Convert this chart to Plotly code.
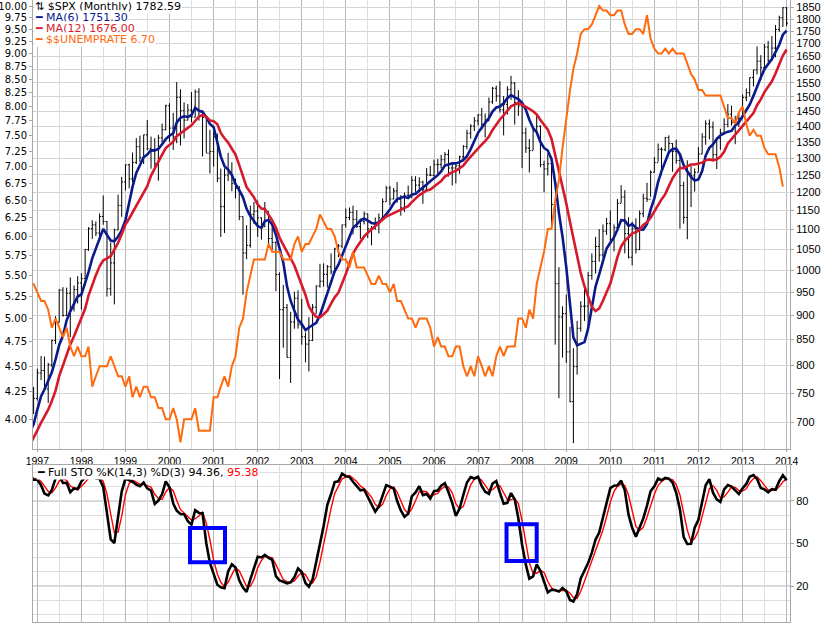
import pandas as pd
import plotly.graph_objects as go

# monthly bars, Jan 1995 .. Jan 2014 (earlier months only feed the indicators)
months = pd.date_range('1995-01-01', '2014-01-01', freq='MS')

spx_close = [
    470.42, 487.39, 500.71, 514.71, 533.40, 544.75, 562.06, 561.88, 584.41, 581.50, 605.37, 615.93,
    636.02, 640.43, 645.50, 654.17, 669.12, 670.63, 639.95, 651.99, 687.33, 705.27, 757.02, 740.74,
    786.16, 790.82, 757.12, 801.34, 848.28, 885.14, 954.31, 899.47, 947.28, 914.62, 955.40, 970.43,
    980.28, 1049.34, 1101.75, 1111.75, 1090.82, 1133.84, 1120.67, 957.28, 1017.01, 1098.67, 1163.63, 1229.23,
    1279.64, 1238.33, 1286.37, 1335.18, 1301.84, 1372.71, 1328.72, 1320.41, 1282.71, 1362.93, 1388.91, 1469.25,
    1394.46, 1366.42, 1498.58, 1452.43, 1420.60, 1454.60, 1430.83, 1517.68, 1436.51, 1429.40, 1314.95, 1320.28,
    1366.01, 1239.94, 1160.33, 1249.46, 1255.82, 1224.42, 1211.23, 1133.58, 1040.94, 1059.78, 1139.45, 1148.08,
    1130.20, 1106.73, 1147.39, 1076.92, 1067.14, 989.82, 911.62, 916.07, 815.28, 885.76, 936.31, 879.82,
    855.70, 841.15, 848.18, 916.92, 963.59, 974.50, 990.31, 1008.01, 995.97, 1050.71, 1058.20, 1111.92,
    1131.13, 1144.94, 1126.21, 1107.30, 1120.68, 1140.84, 1101.72, 1104.24, 1114.58, 1130.20, 1173.82, 1211.92,
    1181.27, 1203.60, 1180.59, 1156.85, 1191.50, 1191.33, 1234.18, 1220.33, 1228.81, 1207.01, 1249.48, 1248.29,
    1280.08, 1280.66, 1294.83, 1310.61, 1270.09, 1270.20, 1276.66, 1303.82, 1335.85, 1377.94, 1400.63, 1418.30,
    1438.24, 1406.82, 1420.86, 1482.37, 1530.62, 1503.35, 1455.27, 1473.99, 1526.75, 1549.38, 1481.14, 1468.36,
    1378.55, 1330.63, 1322.70, 1385.59, 1400.38, 1280.00, 1267.38, 1282.83, 1166.36, 968.75, 896.24, 903.25,
    825.88, 735.09, 797.87, 872.81, 919.14, 919.32, 987.48, 1020.62, 1057.08, 1036.19, 1095.63, 1115.10,
    1073.87, 1104.49, 1169.43, 1186.69, 1089.41, 1030.71, 1101.60, 1049.33, 1141.20, 1183.26, 1180.55, 1257.64,
    1286.12, 1327.22, 1325.83, 1363.61, 1345.20, 1320.64, 1292.28, 1218.89, 1131.42, 1253.30, 1246.96, 1257.60,
    1312.41, 1365.68, 1408.47, 1397.91, 1310.33, 1362.16, 1379.32, 1406.58, 1440.67, 1412.16, 1416.18, 1426.19,
    1498.11, 1514.68, 1569.19, 1597.57, 1630.74, 1606.28, 1685.73, 1632.97, 1681.55, 1756.54, 1805.81, 1848.36,
    1782.59,
]

spx_high = [
    472, 489, 507, 515, 534, 552, 563, 565, 586, 587, 608, 622,
    637, 665, 658, 660, 673, 674, 672, 670, 690, 711, 758, 761,
    794, 818, 817, 805, 850, 898, 957, 961, 960, 983, 965, 986,
    993, 1051, 1106, 1124, 1121, 1142, 1191, 1122, 1067, 1102, 1193, 1244,
    1280, 1283, 1317, 1362, 1370, 1373, 1421, 1367, 1362, 1373, 1409, 1473,
    1478, 1445, 1553, 1527, 1481, 1475, 1517, 1526, 1531, 1454, 1432, 1389,
    1384, 1377, 1268, 1269, 1316, 1287, 1239, 1218, 1134, 1111, 1163, 1173,
    1177, 1131, 1173, 1147, 1106, 1070, 995, 966, 924, 907, 951, 954,
    935, 864, 896, 924, 965, 1015, 1016, 1012, 1040, 1054, 1063, 1112,
    1155, 1158, 1163, 1151, 1128, 1147, 1141, 1109, 1131, 1142, 1183, 1218,
    1218, 1212, 1229, 1192, 1199, 1219, 1246, 1246, 1243, 1233, 1270, 1276,
    1295, 1297, 1310, 1318, 1326, 1284, 1280, 1307, 1340, 1389, 1407, 1431,
    1441, 1462, 1443, 1498, 1535, 1540, 1556, 1503, 1538, 1576, 1553, 1524,
    1471, 1396, 1359, 1397, 1440, 1404, 1292, 1314, 1303, 1167, 1007, 919,
    944, 876, 833, 888, 930, 957, 996, 1040, 1081, 1101, 1113, 1130,
    1150, 1113, 1181, 1220, 1206, 1132, 1120, 1129, 1150, 1196, 1227, 1263,
    1303, 1345, 1333, 1366, 1371, 1346, 1357, 1307, 1230, 1293, 1277, 1269,
    1334, 1378, 1420, 1423, 1416, 1364, 1392, 1427, 1475, 1470, 1435, 1448,
    1509, 1530, 1570, 1598, 1688, 1654, 1698, 1710, 1730, 1775, 1814, 1850,
    1850,
]

spx_low = [
    457, 469, 483, 500, 511, 529, 544, 553, 561, 573, 579, 605,
    597, 633, 627, 632, 630, 661, 605, 638, 649, 684, 703, 714,
    737, 773, 756, 733, 797, 841, 885, 897, 898, 855, 908, 925,
    912, 980, 1046, 1076, 1083, 1074, 1112, 940, 942, 923, 1098, 1133,
    1205, 1211, 1228, 1282, 1288, 1282, 1324, 1268, 1267, 1233, 1347, 1387,
    1350, 1325, 1346, 1339, 1361, 1420, 1413, 1430, 1419, 1305, 1316, 1254,
    1274, 1229, 1081, 1091, 1232, 1203, 1183, 1124, 944, 1026, 1054, 1114,
    1081, 1074, 1106, 1064, 1049, 952, 775, 834, 815, 768, 872, 872,
    840, 806, 789, 847, 902, 960, 962, 960, 990, 995, 1031, 1053,
    1105, 1124, 1087, 1104, 1076, 1113, 1078, 1060, 1099, 1090, 1130, 1174,
    1164, 1180, 1171, 1136, 1146, 1188, 1183, 1201, 1201, 1168, 1201, 1246,
    1245, 1253, 1268, 1280, 1245, 1219, 1225, 1253, 1290, 1327, 1360, 1385,
    1403, 1389, 1364, 1416, 1476, 1484, 1446, 1371, 1439, 1489, 1406, 1435,
    1270, 1316, 1257, 1324, 1374, 1272, 1200, 1248, 1107, 840, 741, 815,
    805, 734, 667, 783, 866, 888, 869, 978, 992, 1020, 1030, 1086,
    1071, 1045, 1106, 1170, 1040, 1028, 1011, 1040, 1048, 1132, 1173, 1187,
    1257, 1289, 1249, 1321, 1312, 1259, 1283, 1102, 1115, 1075, 1159, 1202,
    1259, 1312, 1341, 1358, 1291, 1267, 1325, 1378, 1397, 1403, 1343, 1398,
    1426, 1485, 1501, 1537, 1581, 1560, 1605, 1627, 1633, 1646, 1747, 1767,
    1770,
]

unemp_rate = [
    5.6, 5.4, 5.4, 5.8, 5.6, 5.6, 5.7, 5.7, 5.6, 5.5, 5.6, 5.6,
    5.6, 5.5, 5.5, 5.6, 5.6, 5.3, 5.5, 5.1, 5.2, 5.2, 5.4, 5.4,
    5.3, 5.2, 5.2, 5.1, 4.9, 5.0, 4.9, 4.8, 4.9, 4.7, 4.6, 4.7,
    4.6, 4.6, 4.7, 4.3, 4.4, 4.5, 4.5, 4.5, 4.6, 4.5, 4.4, 4.4,
    4.3, 4.4, 4.2, 4.3, 4.2, 4.3, 4.3, 4.2, 4.2, 4.1, 4.1, 4.0,
    4.0, 4.1, 4.0, 3.8, 4.0, 4.0, 4.0, 4.1, 3.9, 3.9, 3.9, 3.9,
    4.2, 4.2, 4.3, 4.4, 4.3, 4.5, 4.6, 4.9, 5.0, 5.3, 5.5, 5.7,
    5.7, 5.7, 5.7, 5.9, 5.8, 5.8, 5.8, 5.7, 5.7, 5.7, 5.9, 6.0,
    5.8, 5.9, 5.9, 6.0, 6.1, 6.3, 6.2, 6.1, 6.1, 6.0, 5.8, 5.7,
    5.7, 5.6, 5.8, 5.6, 5.6, 5.6, 5.5, 5.4, 5.4, 5.5, 5.4, 5.4,
    5.3, 5.4, 5.2, 5.2, 5.1, 5.0, 5.0, 4.9, 5.0, 5.0, 5.0, 4.9,
    4.7, 4.8, 4.7, 4.7, 4.6, 4.6, 4.7, 4.7, 4.5, 4.4, 4.5, 4.4,
    4.6, 4.5, 4.4, 4.5, 4.4, 4.6, 4.7, 4.6, 4.7, 4.7, 4.7, 5.0,
    5.0, 4.9, 5.1, 5.0, 5.4, 5.6, 5.8, 6.1, 6.1, 6.5, 6.8, 7.3,
    7.8, 8.3, 8.7, 9.0, 9.4, 9.5, 9.5, 9.6, 9.8, 10.0, 9.9, 9.9,
    9.8, 9.8, 9.9, 9.9, 9.6, 9.4, 9.4, 9.5, 9.5, 9.4, 9.8, 9.3,
    9.1, 9.0, 9.0, 9.1, 9.0, 9.1, 9.0, 9.0, 9.0, 8.8, 8.6, 8.5,
    8.3, 8.3, 8.2, 8.2, 8.2, 8.2, 8.2, 8.0, 7.8, 7.8, 7.7, 7.9,
    8.0, 7.7, 7.5, 7.6, 7.5, 7.5, 7.3, 7.2, 7.2, 7.2, 7.0, 6.7,
    None,
]

price_ticks = list(range(700, 1851, 50))
unemp_ticks = [4.0 + 0.25 * i for i in range(25)]
sto_ticks = [20, 50, 80]

FONT = 'DejaVu Sans'
NAVY = '#0a1a8c'
CRIMSON = '#d7192c'
ORANGE = '#ff6a0d'
AXIS_GRAY = '#a8a8a8'

df = pd.DataFrame({'close': spx_close, 'high': spx_high, 'low': spx_low,
                   'unemp': unemp_rate}, index=months)
# open taken as the prior month's close
df['open'] = df['close'].shift(1).fillna(459.27)
df['ma6'] = df['close'].rolling(6).mean()
df['ma12'] = df['close'].rolling(12).mean()
lo14 = df['low'].rolling(14).min()
hi14 = df['high'].rolling(14).max()
df['k'] = (100 * (df['close'] - lo14) / (hi14 - lo14)).rolling(3).mean()
df['d'] = df['k'].rolling(3).mean()
d = df.loc['1996-11-01':]

fig = go.Figure()
fig.add_trace(go.Ohlc(x=d.index, open=d['open'], high=d['high'], low=d['low'], close=d['close'],
                      increasing=dict(line=dict(color='black', width=1)),
                      decreasing=dict(line=dict(color='black', width=1)),
                      tickwidth=0.4, xaxis='x', yaxis='y', hoverinfo='skip'))
fig.add_trace(go.Scatter(x=d.index, y=d['ma6'], mode='lines', line=dict(color=NAVY, width=2.6),
                         xaxis='x', yaxis='y'))
fig.add_trace(go.Scatter(x=d.index, y=d['ma12'], mode='lines', line=dict(color=CRIMSON, width=2.6),
                         xaxis='x', yaxis='y'))
fig.add_trace(go.Scatter(x=d.index, y=d['unemp'], mode='lines', line=dict(color=ORANGE, width=2),
                         xaxis='x', yaxis='y2'))
fig.add_trace(go.Scatter(x=d.index, y=d['d'], mode='lines', line=dict(color='#ff0000', width=1.4),
                         xaxis='x2', yaxis='y3'))
fig.add_trace(go.Scatter(x=d.index, y=d['k'], mode='lines', line=dict(color='black', width=2.6),
                         xaxis='x2', yaxis='y3'))

xgrid = dict(type='date', range=['1996-11-26', '2014-01-29'], dtick='M12', tick0='1997-01-01',
             showgrid=True, gridcolor='#b9b9b9', gridwidth=1,
             minor=dict(dtick='M6', tick0='1997-07-01', showgrid=True, gridcolor='#dedede'),
             showline=True, mirror=True, linecolor=AXIS_GRAY, zeroline=False)

fig.update_layout(
    width=827, height=624,
    margin=dict(l=33, r=37, t=0, b=2, autoexpand=False),
    paper_bgcolor='white', plot_bgcolor='white',
    showlegend=False,
    font=dict(family=FONT, size=10, color='black'),
    xaxis=dict(**xgrid, anchor='y', tickformat='%Y', ticks='outside', ticklen=2,
               tickcolor=AXIS_GRAY, tickfont=dict(family='Liberation Sans', size=10.5),
               ticklabeloverflow='allow', rangeslider=dict(visible=False)),
    xaxis2=dict(**xgrid, anchor='y3', matches='x', showticklabels=False),
    yaxis=dict(domain=[0.2781, 1], type='log', side='right', anchor='x',
               range=[2.8182, 3.2746], tickvals=price_ticks, ticktext=[str(v) for v in price_ticks],
               showgrid=True, gridcolor='#d4d4d4', zeroline=False,
               ticks='outside', ticklen=3, tickcolor=AXIS_GRAY,
               tickfont=dict(family='Liberation Sans', size=11), ticklabeloverflow='allow',
               showline=True, mirror=True, linecolor=AXIS_GRAY),
    yaxis2=dict(type='log', side='left', overlaying='y', anchor='x',
                range=[0.5734, 1.0058], tickvals=unemp_ticks,
                ticktext=['%.2f' % v for v in unemp_ticks], showgrid=False, zeroline=False,
                ticks='outside', ticklen=3, tickcolor=AXIS_GRAY,
                tickfont=dict(family=FONT, size=10), ticklabeloverflow='allow'),
    yaxis3=dict(domain=[0, 0.2524], side='right', anchor='x2', range=[-5.1, 105.1],
                tickvals=sto_ticks, showgrid=False, zeroline=False,
                minor=dict(dtick=10, tick0=0, showgrid=True, gridcolor='#dedede'),
                ticks='outside', ticklen=3, tickcolor=AXIS_GRAY,
                tickfont=dict(family='Liberation Sans', size=11), ticklabeloverflow='allow',
                showline=True, mirror=True, linecolor=AXIS_GRAY),
)

# stochastic reference lines
for lvl, dash in [(80, 'solid'), (20, 'solid'), (50, 'dashdot')]:
    fig.add_shape(type='line', xref='x2 domain', yref='y3', x0=0, x1=1, y0=lvl, y1=lvl,
                  line=dict(color='#5a5a5a', width=1.2, dash=dash), layer='below')

# highlight boxes
for x0, x1, y0, y1 in [('2000-06-19', '2001-04-05', 36.9, 60.8),
                       ('2007-08-25', '2008-05-01', 37.8, 63.6)]:
    fig.add_shape(type='rect', xref='x2', yref='y3', x0=x0, x1=x1, y0=y0, y1=y1,
                  line=dict(color='#0000ff', width=4), fillcolor='rgba(0,0,0,0)')

legend_rows = [
    ('⇅ $SPX (Monthly) 1782.59', 'black', 6.5),
    ('━ MA(6) 1751.30', NAVY, 17.5),
    ('━ MA(12) 1676.00', CRIMSON, 28.5),
    ('━ $$UNEMPRATE 6.70', ORANGE, 39.5),
]
for text, color, ypx in legend_rows:
    fig.add_annotation(xref='paper', yref='paper', x=0.0015, y=1 - ypx / 622,
                       xanchor='left', yanchor='middle', text=text, showarrow=False,
                       font=dict(family=FONT, size=11, color=color),
                       bgcolor='white', borderpad=0)

fig.add_annotation(xref='paper', yref='paper', x=0.004, y=1 - 472.5 / 622,
                   xanchor='left', yanchor='middle', showarrow=False,
                   text="━ Full STO %K(14,3) %D(3) 94.36, <span style='color:#ff0000'>95.38</span>",
                   font=dict(family=FONT, size=11, color='black'),
                   bgcolor='white', borderpad=0)

# drop the default page margin so the chart sits flush in the window
fig.write_html("out.html", config={'displayModeBar': False},
               post_script="document.body.style.margin='0';")
